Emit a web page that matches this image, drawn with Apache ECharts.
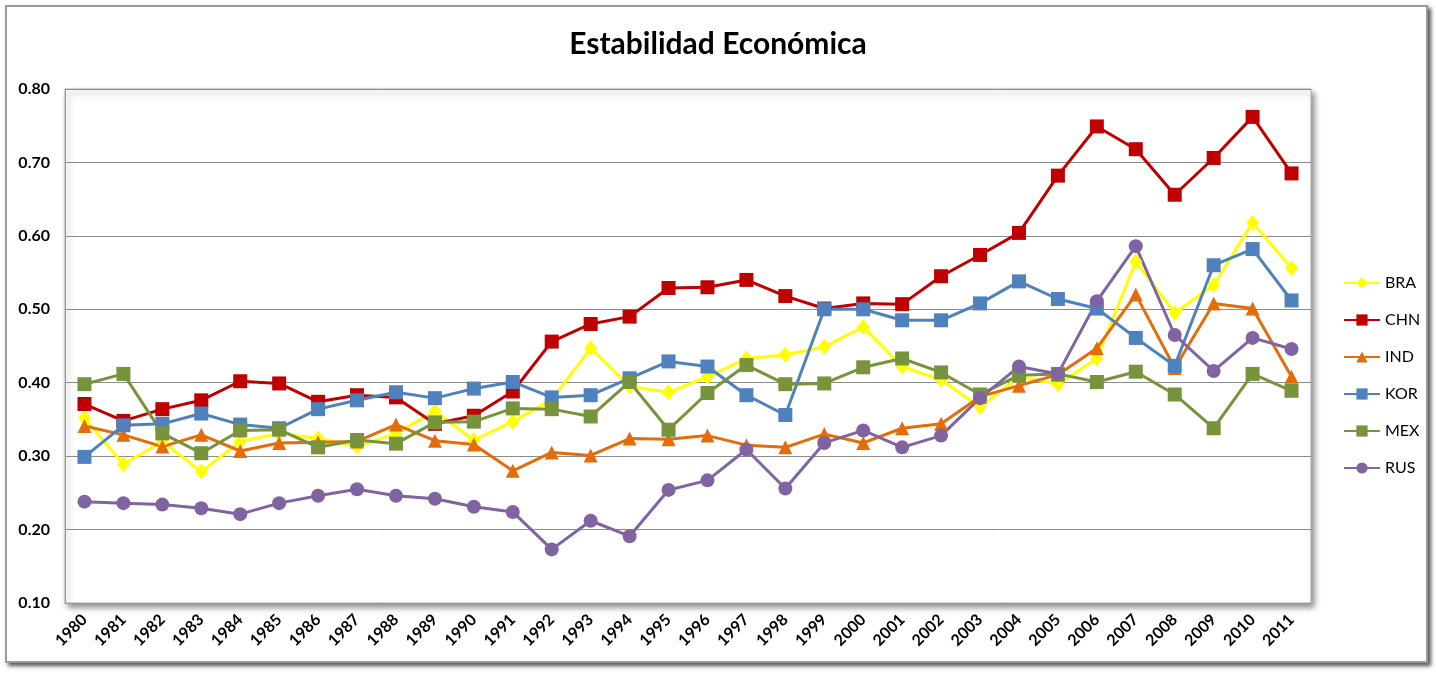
<!DOCTYPE html>
<html>
<head>
<meta charset="utf-8">
<script src="https://cdn.jsdelivr.net/npm/echarts@6/dist/echarts.min.js"></script>
<style>
  html, body { margin: 0; padding: 0; background: #fff; }
  #frame { position: absolute; left: 5px; top: 5px; width: 1419px; height: 654px;
           border: 2px solid #9a9a9a; box-shadow: 3px 3px 4px #555; background: #fff; }
  #main { position: absolute; left: 0; top: 0; width: 1436px; height: 673px; }
</style>
</head>
<body>
<div id="frame"></div>
<div id="main"></div>
<script>
var years = ['1980','1981','1982','1983','1984','1985','1986','1987','1988','1989','1990','1991',
  '1992','1993','1994','1995','1996','1997','1998','1999','2000','2001','2002','2003','2004',
  '2005','2006','2007','2008','2009','2010','2011'];

var bra = [0.352,0.289,0.320,0.279,0.320,0.331,0.324,0.313,0.331,0.361,0.322,0.347,
  0.377,0.447,0.395,0.387,0.408,0.433,0.438,0.449,0.476,0.422,0.404,0.367,0.408,
  0.398,0.433,0.565,0.495,0.533,0.618,0.556];
var chn = [0.371,0.348,0.364,0.376,0.402,0.399,0.374,0.383,0.380,0.344,0.355,0.388,
  0.456,0.480,0.490,0.529,0.530,0.540,0.518,0.501,0.508,0.507,0.545,0.574,0.604,
  0.682,0.749,0.718,0.656,0.706,0.762,0.685];
var ind = [0.341,0.329,0.313,0.329,0.307,0.318,0.319,0.320,0.343,0.321,0.316,0.280,
  0.305,0.301,0.324,0.323,0.328,0.315,0.312,0.330,0.318,0.338,0.344,0.381,0.396,
  0.411,0.447,0.520,0.420,0.508,0.501,0.408];
var kor = [0.299,0.342,0.344,0.358,0.343,0.338,0.364,0.376,0.387,0.379,0.392,0.401,
  0.380,0.383,0.406,0.429,0.422,0.383,0.356,0.500,0.500,0.485,0.485,0.508,0.538,
  0.514,0.501,0.461,0.423,0.560,0.582,0.512];
var mex = [0.398,0.412,0.331,0.304,0.335,0.336,0.312,0.322,0.317,0.346,0.347,0.365,
  0.364,0.354,0.401,0.336,0.386,0.424,0.398,0.399,0.421,0.433,0.414,0.384,0.410,
  0.412,0.401,0.415,0.384,0.338,0.412,0.389];
var rus = [0.238,0.236,0.234,0.229,0.221,0.236,0.246,0.255,0.246,0.242,0.231,0.224,
  0.173,0.212,0.191,0.254,0.267,0.309,0.256,0.318,0.335,0.312,0.328,0.379,0.422,
  0.412,0.511,0.586,0.465,0.416,0.461,0.446];

var font = 'Lato, "Open Sans", sans-serif';

function mkSeries(name, data, color, symbol, size) {
  return {
    name: name,
    type: 'line',
    data: data,
    symbol: symbol,
    symbolSize: size,
    lineStyle: { color: color, width: 3 },
    itemStyle: { color: color },
    emphasis: { disabled: true },
    animation: false
  };
}

var myChart = echarts.init(document.getElementById('main'));
var option = {
  backgroundColor: 'transparent',
  title: {
    text: 'Estabilidad Económica',
    left: 'center',
    top: 24,
    textStyle: { fontFamily: font, fontSize: 30, fontWeight: 'bold', color: '#000' }
  },
  legend: {
    orient: 'vertical',
    left: 1338,
    top: 270,
    itemWidth: 36,
    itemHeight: 14,
    itemGap: 21,
    textStyle: { fontFamily: font, fontSize: 16, color: '#000' },
    data: ['BRA','CHN','IND','KOR','MEX','RUS']
  },
  grid: {
    left: 65, right: 125, top: 89, bottom: 70,
    show: true,
    backgroundColor: '#fff',
    borderColor: '#b0b0b0',
    borderWidth: 1,
    shadowColor: 'rgba(0,0,0,0.45)',
    shadowBlur: 6,
    shadowOffsetX: 3,
    shadowOffsetY: 4
  },
  xAxis: {
    type: 'category',
    data: years,
    boundaryGap: true,
    axisLine: { lineStyle: { color: '#999' } },
    axisTick: { show: false },
    axisLabel: {
      rotate: 45, interval: 0, margin: 14,
      fontFamily: font, fontSize: 16, fontWeight: 'bold', color: '#000'
    }
  },
  yAxis: {
    type: 'value',
    min: 0.1, max: 0.8, interval: 0.1,
    axisLine: { show: true, lineStyle: { color: '#999' } },
    axisTick: { show: false },
    splitLine: { lineStyle: { color: '#8c8c8c', width: 1 } },
    axisLabel: {
      margin: 15,
      fontFamily: font, fontSize: 16, fontWeight: 'bold', color: '#000',
      formatter: function (v) { return v.toFixed(2); }
    }
  },
  series: [
    mkSeries('BRA', bra, '#FFFF00', 'diamond', [13, 16]),
    mkSeries('CHN', chn, '#C00000', 'rect', 14),
    mkSeries('IND', ind, '#E46C0A', 'triangle', 14),
    mkSeries('KOR', kor, '#4F81BD', 'rect', 14),
    mkSeries('MEX', mex, '#77933C', 'rect', 14),
    mkSeries('RUS', rus, '#8064A2', 'circle', 14)
  ]
};
if (option && typeof option === "object") {
  myChart.setOption(option, true);
}
</script>
</body>
</html>
